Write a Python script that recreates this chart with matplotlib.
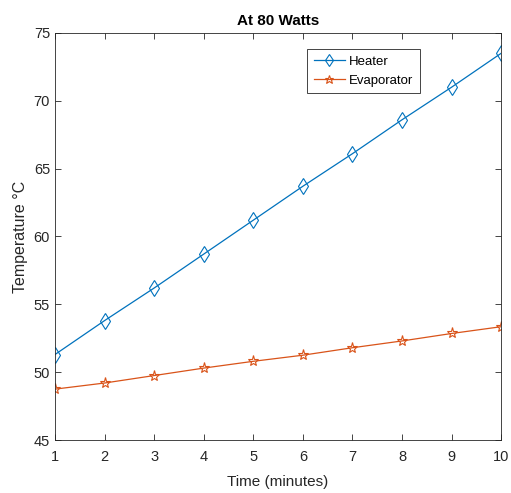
import matplotlib
matplotlib.use("Agg")
import matplotlib.pyplot as plt

time_min = [1, 2, 3, 4, 5, 6, 7, 8, 9, 10]
heater = [51.3, 53.8, 56.2, 58.7, 61.2, 63.7, 66.1, 68.6, 71.0, 73.5]
evaporator = [48.75, 49.2, 49.75, 50.3, 50.8, 51.25, 51.8, 52.3, 52.85, 53.35]

plt.rcParams['font.family'] = ['Liberation Sans', 'DejaVu Sans']

fig = plt.figure(figsize=(5.11, 4.93), dpi=100)
ax = fig.add_axes([0.1076, 0.1075, 0.873, 0.8256])

ax.plot(time_min, heater, color='#0072BD', marker='d', markersize=8,
        markerfacecolor='none', markeredgewidth=0.8, linewidth=0.9, label='Heater')
ax.plot(time_min, evaporator, color='#D95319', marker='*', markersize=8,
        markerfacecolor='none', markeredgewidth=0.8, linewidth=0.9, label='Evaporator')

ax.set_xlim(1, 10)
ax.set_ylim(45, 75)
ax.set_xticks(range(1, 11))
ax.set_yticks(range(45, 80, 5))
ax.tick_params(direction='in', top=True, right=True, labelsize=10.5,
               colors='#262626', length=4, width=0.6)
ax.tick_params(axis='x', pad=7)
for s in ax.spines.values():
    s.set_color('#262626')
    s.set_linewidth(0.6)

ax.set_title('At 80 Watts', fontsize=11, fontweight='bold', pad=6)
ax.set_xlabel('Time (minutes)', fontsize=11, color='#262626', labelpad=8)
ax.set_ylabel('Temperature °C', fontsize=11.5, color='#262626')

leg = ax.legend(loc='upper left', bbox_to_anchor=(0.565, 0.961), fontsize=9.5,
                fancybox=False, edgecolor='#262626', framealpha=1,
                borderpad=0.5, labelspacing=0.5, handlelength=2.4,
                handletextpad=0.3, markerscale=0.8, borderaxespad=0)
leg.get_frame().set_linewidth(0.6)

plt.savefig('out.png', dpi=100)
